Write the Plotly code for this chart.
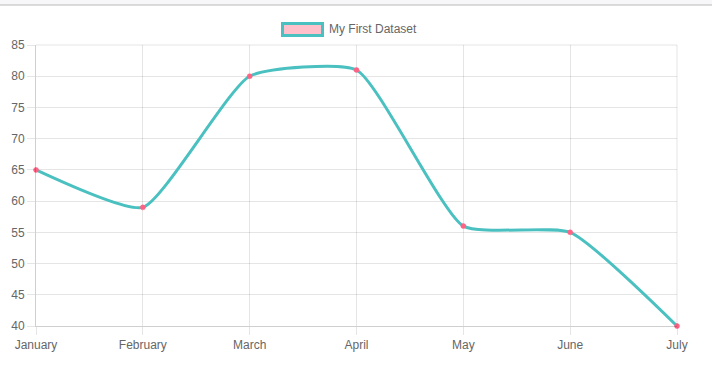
import plotly.graph_objects as go

months = ["January", "February", "March", "April", "May", "June", "July"]
values = [65, 59, 80, 81, 56, 55, 40]
dataset_label = "My First Dataset"
y_ticks = [40, 45, 50, 55, 60, 65, 70, 75, 80, 85]

W, H = 712, 378
ML, MR, MT, MB = 36, 35, 45, 52
pw = W - ML - MR
ph = H - MT - MB

def px_x(p):
    return (p - ML) / pw

def px_y(p):
    return (H - MB - p) / ph

FONT = "Liberation Sans, Arial, Helvetica, sans-serif"
GRID = "rgba(0,0,0,0.1)"
AXIS = "rgba(0,0,0,0.19)"

fig = go.Figure()
fig.add_trace(go.Scatter(
    x=months, y=values, mode="lines+markers",
    line=dict(color="rgb(75,192,192)", width=3, shape="spline", smoothing=0.5),
    marker=dict(color="rgb(255,99,132)", size=5, line=dict(color="rgb(255,99,132)", width=0.5)),
    cliponaxis=False, showlegend=False, hoverinfo="x+y",
))

shapes = [
    # page top band
    dict(type="rect", xref="paper", yref="paper", x0=px_x(-5), x1=px_x(W + 5),
         y0=px_y(5), y1=px_y(-5), fillcolor="#f7f7f9", line=dict(width=0), layer="below"),
    dict(type="line", xref="paper", yref="paper", x0=px_x(-5), x1=px_x(W + 5),
         y0=px_y(5), y1=px_y(5), line=dict(color="#cfcfcf", width=1.5)),
    # legend box
    dict(type="rect", xref="paper", yref="paper", x0=px_x(282.5), x1=px_x(322.5),
         y0=px_y(35.5), y1=px_y(23.5), fillcolor="rgba(255,192,203,1)",
         line=dict(color="rgb(75,192,192)", width=3)),
    # top and right grid lines
    dict(type="line", xref="paper", yref="paper", x0=0, x1=1, y0=1, y1=1,
         line=dict(color=GRID, width=1)),
    dict(type="line", xref="paper", yref="paper", x0=1, x1=1, y0=0, y1=1,
         line=dict(color=GRID, width=1)),
]

fig.update_layout(
    width=W, height=H,
    margin=dict(l=ML, r=MR, t=MT, b=MB, pad=0),
    paper_bgcolor="white", plot_bgcolor="white",
    font=dict(family=FONT, size=12, color="#666"),
    shapes=shapes,
    annotations=[dict(text=dataset_label, xref="paper", yref="paper",
                      x=px_x(327), y=px_y(29), xanchor="left", yanchor="middle",
                      showarrow=False, font=dict(family=FONT, size=12, color="#666"))],
    xaxis=dict(type="category", range=[0, 6], showgrid=True, gridcolor=GRID, gridwidth=1,
               showline=True, linecolor=AXIS, linewidth=1,
               ticks="outside", ticklen=8, tickcolor=GRID, tickwidth=1,
               zeroline=False, fixedrange=True),
    yaxis=dict(range=[40, 85], tickvals=y_ticks, showgrid=True, gridcolor=GRID, gridwidth=1,
               showline=True, linecolor=AXIS, linewidth=1,
               ticks="outside", ticklen=8, tickcolor=GRID, tickwidth=1,
               zeroline=False, fixedrange=True),
    showlegend=False,
)

fig.write_html("out.html", config={"displayModeBar": False},
               post_script="document.body.style.margin='0';document.body.style.padding='0';")
